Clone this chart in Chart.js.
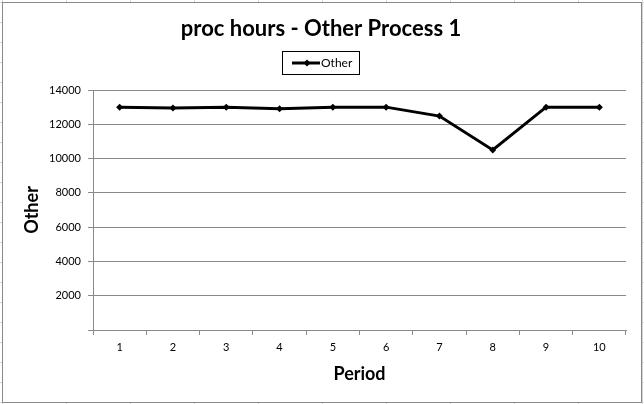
<!DOCTYPE html>
<html>
<head>
<meta charset="utf-8">
<script src="https://cdn.jsdelivr.net/npm/chart.js@4"></script>
<style>
html,body{margin:0;padding:0;background:#fff;}
#wrap{width:644px;height:404px;position:relative;}
</style>
</head>
<body>
<div id="wrap"><canvas id="c" width="644" height="404"></canvas></div>
<script>
const categories = ['1','2','3','4','5','6','7','8','9','10'];
const otherValues = [13000, 12950, 13000, 12900, 13000, 13000, 12480, 10500, 13000, 13000];
const yTicks = [0, 2000, 4000, 6000, 8000, 10000, 12000, 14000];
const titleText = 'proc hours - Other Process 1';
const seriesName = 'Other';
const xTitle = 'Period';
const yTitle = 'Other';

const FONT = 'Lato, "Liberation Sans", sans-serif';

const frame = {
  id: 'frame',
  beforeDraw(chart) {
    const ctx = chart.ctx;
    ctx.save();
    ctx.fillStyle = '#fff';
    ctx.fillRect(0, 0, chart.width, chart.height);
    ctx.strokeStyle = '#d4d4d4';
    ctx.lineWidth = 1;
    for (let x = 2; x < chart.width; x += 64) {
      ctx.beginPath(); ctx.moveTo(x + 0.5, 0); ctx.lineTo(x + 0.5, chart.height); ctx.stroke();
    }
    for (let y = 2; y < chart.height; y += 20) {
      ctx.beginPath(); ctx.moveTo(0, y + 0.5); ctx.lineTo(chart.width, y + 0.5); ctx.stroke();
    }
    ctx.fillStyle = '#fff';
    ctx.fillRect(2, 2, 640, 401);
    ctx.strokeStyle = '#898989';
    ctx.lineWidth = 1;
    ctx.strokeRect(2.5, 2.5, 639, 400);
    ctx.restore();
  },
  afterDraw(chart) {
    const ctx = chart.ctx;
    ctx.save();
    // chart title
    ctx.fillStyle = '#000';
    ctx.font = 'bold 22px ' + FONT;
    ctx.textAlign = 'center';
    ctx.textBaseline = 'alphabetic';
    ctx.fillText(titleText, 321, 36);
    // legend box
    ctx.strokeStyle = '#000';
    ctx.lineWidth = 1;
    ctx.strokeRect(282.5, 51.5, 77, 23);
    ctx.lineWidth = 3;
    ctx.beginPath(); ctx.moveTo(292, 63); ctx.lineTo(320, 63); ctx.stroke();
    ctx.beginPath();
    ctx.moveTo(307, 59.5); ctx.lineTo(310.5, 63); ctx.lineTo(307, 66.5); ctx.lineTo(303.5, 63); ctx.closePath(); ctx.fill();
    ctx.font = '12px ' + FONT;
    ctx.textAlign = 'left';
    ctx.textBaseline = 'middle';
    ctx.fillText(seriesName, 321, 63);
    ctx.restore();
  }
};

new Chart(document.getElementById('c'), {
  type: 'line',
  data: {
    labels: categories,
    datasets: [{
      label: seriesName,
      data: otherValues,
      borderColor: '#000',
      backgroundColor: '#000',
      borderWidth: 3,
      pointStyle: 'rectRot',
      pointRadius: 3.5,
      pointBorderWidth: 0,
      pointBackgroundColor: '#000',
      tension: 0,
      fill: false
    }]
  },
  options: {
    responsive: false,
    animation: false,
    devicePixelRatio: 1,
    layout: { padding: { left: 0, right: 18, top: 90, bottom: 10 } },
    plugins: {
      legend: { display: false },
      tooltip: { enabled: false },
      title: { display: false }
    },
    scales: {
      x: {
        type: 'category',
        offset: true,
        grid: { display: true, offset: true, drawOnChartArea: false, drawTicks: true, tickLength: 5, color: '#898989' },
        border: { display: true, color: '#898989', width: 1 },
        ticks: { color: '#000', font: { family: FONT, size: 11 }, padding: 6, maxRotation: 0, autoSkip: false },
        title: { display: true, text: xTitle, color: '#000', font: { family: FONT, size: 18, weight: 'bold' }, padding: { top: 4, bottom: 9 } },
        afterFit(scale) { scale.height = 64; }
      },
      y: {
        min: 0,
        max: 14000,
        afterBuildTicks(scale) { scale.ticks = yTicks.map(v => ({ value: v })); },
        grid: { display: true, drawOnChartArea: true, drawTicks: true, tickLength: 5, color: '#898989' },
        border: { display: true, color: '#898989', width: 1 },
        ticks: { color: '#000', font: { family: FONT, size: 11 }, padding: 7,
          callback: (v) => v === 0 ? '' : String(v) },
        title: { display: true, text: yTitle, color: '#000', font: { family: FONT, size: 18, weight: 'bold' }, padding: { top: 21, bottom: 0 } },
        afterFit(scale) { scale.width = 93; }
      }
    }
  },
  plugins: [frame]
});
</script>
</body>
</html>
